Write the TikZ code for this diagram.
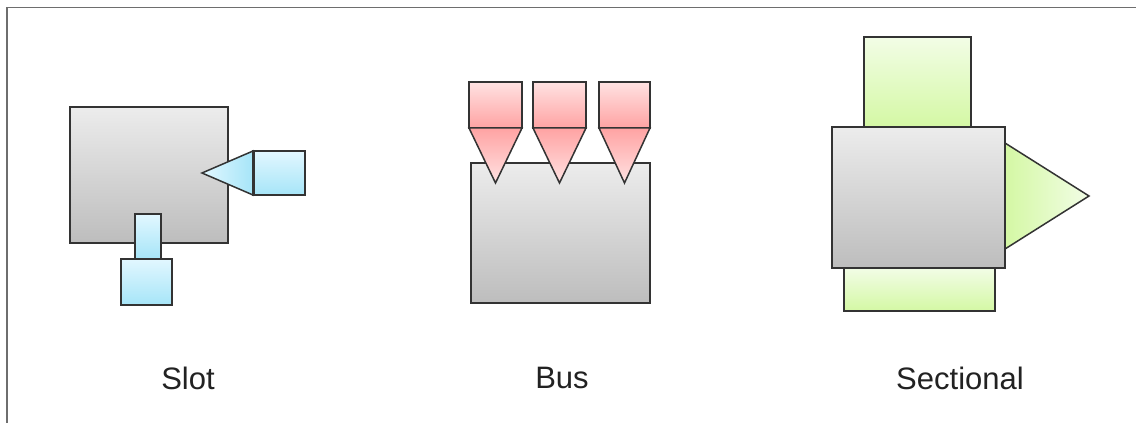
\documentclass[tikz,border=0pt]{standalone}
\usepackage{fontspec}
\setmainfont{Liberation Sans}
\definecolor{edge}{HTML}{333333}
\definecolor{frame}{HTML}{6E6E6E}
\definecolor{grayT}{HTML}{ECECEC}
\definecolor{grayB}{HTML}{BDBDBD}
\definecolor{cyanL}{HTML}{E2F7FF}
\definecolor{cyanD}{HTML}{A6E5F8}
\definecolor{redL}{HTML}{FFE2E2}
\definecolor{redD}{HTML}{FFA3A3}
\definecolor{greenL}{HTML}{F2FDE6}
\definecolor{greenD}{HTML}{D4F8A4}
\definecolor{txt}{HTML}{222222}
\tikzset{
  outl/.style={draw=edge, line width=1.5pt, line join=miter},
  graybox/.style={outl, top color=grayT, bottom color=grayB},
  cyanbox/.style={outl, top color=cyanL, bottom color=cyanD},
  cyantri/.style={outl, left color=cyanL, right color=cyanD},
  redbox/.style={outl, top color=redL, bottom color=redD},
  redtri/.style={outl, top color=redD, bottom color=redL},
  greenbox/.style={outl, top color=greenL, bottom color=greenD},
  greentri/.style={outl, left color=greenD, right color=greenL},
  lbl/.style={text=txt, font=\fontsize{31}{36}\selectfont, inner sep=0pt},
}
\begin{document}
\begin{tikzpicture}[x=1pt,y=1pt]
\useasboundingbox (0,0) rectangle (1136,423);
\fill[white] (0,0) rectangle (1136,423);
% frame (top and left edges visible)
\draw[frame, line width=1.5pt] (7,0) -- (7,415.5) -- (1136,415.5);

% ---------- Slot ----------
\shade[graybox] (70,180) rectangle (228,316);
\shade[cyantri] (202,250) -- (253,272) -- (253,228) -- cycle;
\shade[cyanbox] (253,228) rectangle (305,272);
\draw[edge, line width=3pt] (253,228) -- (253,272);
\shade[cyanbox] (135,164) rectangle (161,209);
\shade[cyanbox] (121,118) rectangle (172,164);
\node[lbl] (slot) at (188,45) {Slot};

% ---------- Bus ----------
\shade[graybox] (471,120) rectangle (650,260);
\foreach \a/\b in {469/522, 533/586, 599/650}{
  \shade[redbox] (\a,295) rectangle (\b,341);
  \shade[redtri] (\a,295) -- (\b,295) -- ({(\a+\b)/2},240) -- cycle;
}
\node[lbl] (bus) at (562,45) {Bus};

% ---------- Sectional ----------
\shade[greenbox] (864,296) rectangle (971,386);
\shade[greenbox] (844,112) rectangle (995,155);
\shade[greentri] (1005,280) -- (1089,227) -- (1005,174) -- cycle;
\shade[graybox] (832,155) rectangle (1005,296);
\node[lbl] (sectional) at (960,45) {Sectional};
\end{tikzpicture}
\end{document}
